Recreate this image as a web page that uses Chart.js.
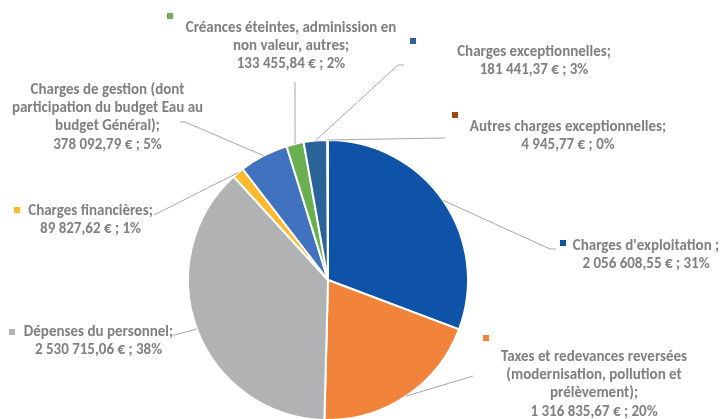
<!DOCTYPE html>
<html lang="fr">
<head>
<meta charset="utf-8">
<title>Répartition des charges</title>
<script src="https://cdn.jsdelivr.net/npm/chart.js@4.4.1/dist/chart.umd.min.js"></script>
<style>
  html, body { margin: 0; padding: 0; background: #fff; overflow: hidden; }
  #wrap { width: 723px; height: 419px; overflow: hidden; }
</style>
</head>
<body>
<div id="wrap"><canvas id="chargesPie" width="723" height="440"></canvas></div>
<script>
// Libellés des charges, découpés en lignes comme dans les étiquettes
const categories = [
  ["Charges d'exploitation "],
  ['Taxes et redevances reversées', '(modernisation, pollution et', 'prélèvement)'],
  ['Dépenses du personnel'],
  ['Charges financières'],
  ['Charges de gestion (dont', 'participation du budget Eau au', 'budget Général)'],
  ['Créances éteintes, adminission en', 'non valeur, autres'],
  ['Charges exceptionnelles'],
  ['Autres charges exceptionnelles']
];

// Montants en euros
const amounts = [2056608.55, 1316835.67, 2530715.06, 89827.62, 378092.79, 133455.84, 181441.37, 4945.77];

const colors = ['#0e53a7', '#f2833b', '#b1b2b4', '#fdba2c', '#4172bf', '#6bb050', '#2a6398', '#9e480e'];
const showMarker = [true, true, true, true, false, true, true, true];

// Placement des étiquettes : centre du texte, première ligne, carré de couleur, bout du trait de rappel
const labelPos = [
  { x: 646, y: 246, marker: [563, 243], leader: [[550, 249], [556, 249]] },
  { x: 594, y: 357, marker: [486, 338], leader: [[473, 376]] },
  { x: 98.5, y: 332, marker: [12, 332], leader: [[173, 335.5]] },
  { x: 90.5, y: 211, marker: [17, 210], leader: [[154, 215]] },
  { x: 107.5, y: 90, marker: null, leader: [[185, 122], [180, 122]] },
  { x: 291, y: 28, marker: [170, 16], leader: [[295, 82]] },
  { x: 534, y: 52, marker: [413, 41], leader: [[398, 65], [404, 65]] },
  { x: 568, y: 127, marker: [455, 115], leader: [[445, 138]] }
];

const LINE_H = 18.3;
const TEXT_COLOR = '#7f7f7f';
const LEADER_COLOR = '#a6a6a6';

function formatEuro(v) {
  const parts = v.toFixed(2).split('.');
  const intPart = parts[0].replace(/\B(?=(\d{3})+(?!\d))/g, ' ');
  return intPart + ',' + parts[1] + ' €';
}

// Pourcentages arrondis dont la somme fait 100 (plus forts restes)
function roundedPercents(values) {
  const total = values.reduce((a, b) => a + b, 0);
  const raw = values.map(v => v / total * 100);
  const floors = raw.map(Math.floor);
  let left = 100 - floors.reduce((a, b) => a + b, 0);
  const order = raw.map((r, i) => [r - floors[i], i]).sort((a, b) => b[0] - a[0]);
  for (let k = 0; k < left; k++) floors[order[k][1]] += 1;
  return floors;
}

const percents = roundedPercents(amounts);

const outsideLabels = {
  id: 'outsideLabels',
  afterDatasetsDraw(chart) {
    const ctx = chart.ctx;
    const arcs = chart.getDatasetMeta(0).data;
    ctx.save();

    // traits de rappel depuis le milieu du bord de chaque part
    ctx.strokeStyle = LEADER_COLOR;
    ctx.lineWidth = 1;
    arcs.forEach((arc, i) => {
      const p = arc.getProps(['x', 'y', 'startAngle', 'endAngle', 'outerRadius'], true);
      const mid = (p.startAngle + p.endAngle) / 2;
      const ex = p.x + Math.cos(mid) * p.outerRadius;
      const ey = p.y + Math.sin(mid) * p.outerRadius;
      ctx.beginPath();
      ctx.moveTo(ex, ey);
      labelPos[i].leader.forEach(pt => ctx.lineTo(pt[0], pt[1]));
      ctx.stroke();
    });

    // textes et carrés de couleur
    ctx.font = 'bold 15px Carlito, Lato, sans-serif';
    ctx.textAlign = 'center';
    ctx.textBaseline = 'middle';
    categories.forEach((lines, i) => {
      const pos = labelPos[i];
      const text = lines.slice();
      text[text.length - 1] += ';';
      text.push(formatEuro(amounts[i]) + ' ; ' + percents[i] + '%');
      ctx.fillStyle = TEXT_COLOR;
      text.forEach((t, k) => ctx.fillText(t, pos.x, pos.y + k * LINE_H));
      if (showMarker[i] && pos.marker) {
        ctx.fillStyle = colors[i];
        ctx.fillRect(pos.marker[0] - 3, pos.marker[1] - 3, 6, 6);
      }
    });
    ctx.restore();
  }
};

new Chart(document.getElementById('chargesPie'), {
  type: 'pie',
  data: {
    labels: categories.map(l => l.join(' ').trim()),
    datasets: [{
      data: amounts,
      backgroundColor: colors,
      borderColor: '#ffffff',
      borderWidth: 2
    }]
  },
  options: {
    responsive: false,
    animation: false,
    layout: {
      padding: { top: 139, left: 187, right: 254, bottom: 19 }
    },
    plugins: {
      legend: { display: false },
      tooltip: { enabled: false }
    }
  },
  plugins: [outsideLabels]
});
</script>
</body>
</html>
